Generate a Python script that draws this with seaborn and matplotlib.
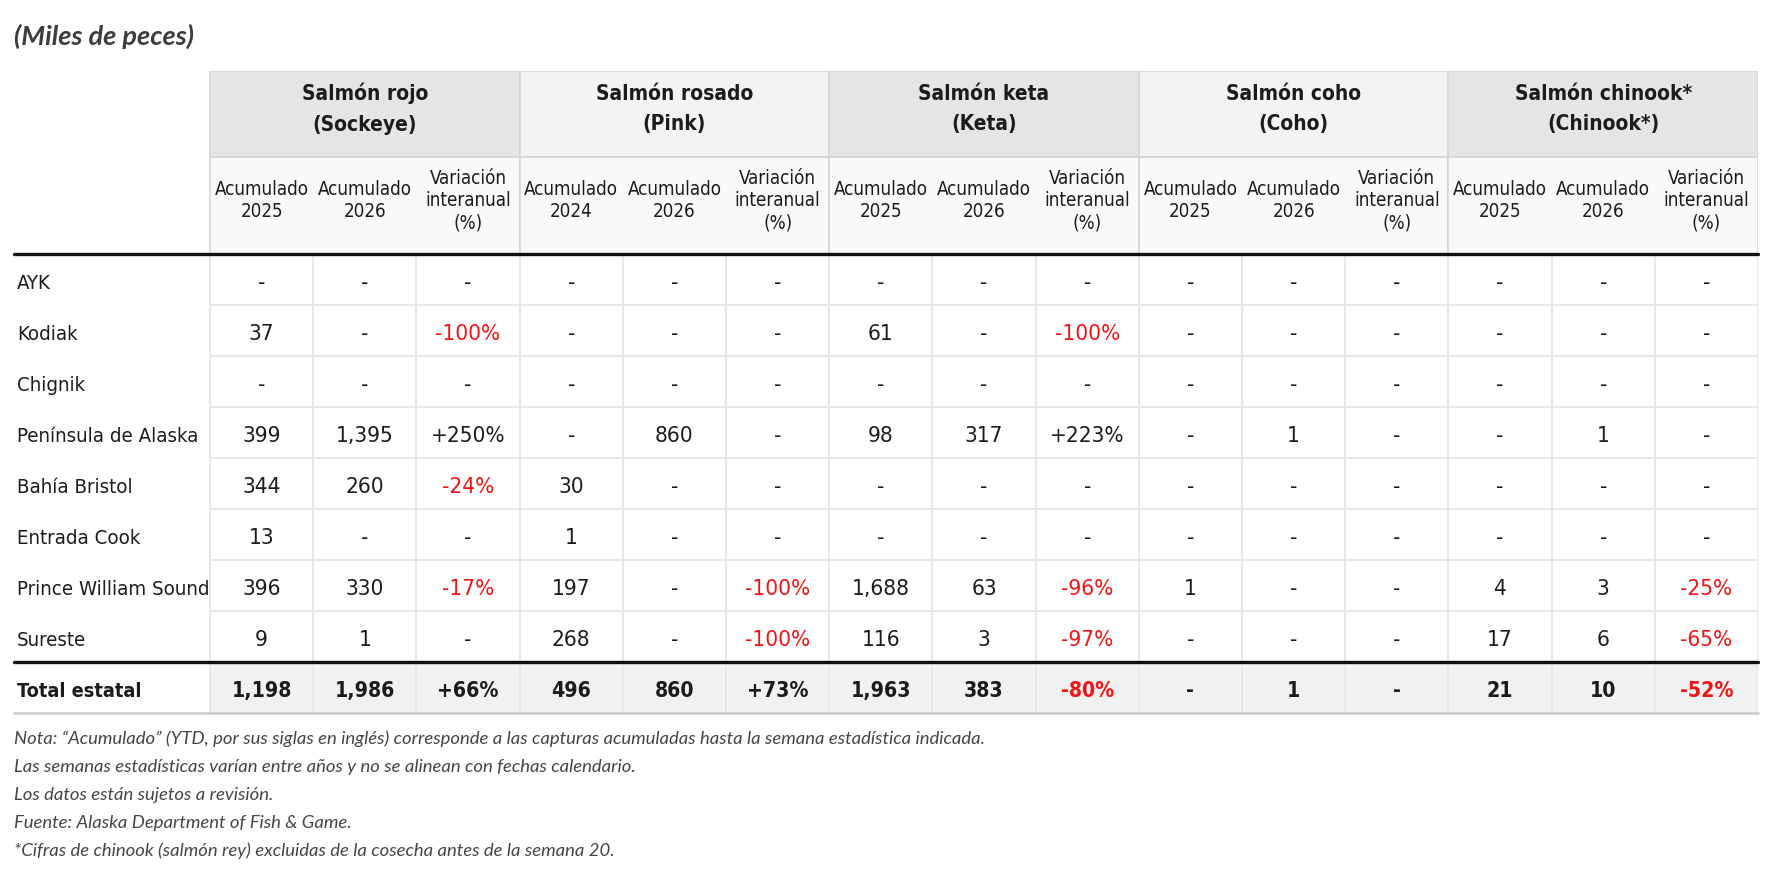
import numpy as np
import pandas as pd
import matplotlib
matplotlib.use("Agg")
import matplotlib.pyplot as plt
import seaborn as sns
from matplotlib import font_manager as fm
from matplotlib.colors import ListedColormap
from matplotlib.patches import Rectangle

# ---------------- data ----------------
title = "(Miles de peces)"
regions = ["AYK", "Kodiak", "Chignik", "Península de Alaska", "Bahía Bristol",
           "Entrada Cook", "Prince William Sound", "Sureste"]
total_label = "Total estatal"

species = ["Salmón rojo\n(Sockeye)", "Salmón rosado\n(Pink)", "Salmón keta\n(Keta)",
           "Salmón coho\n(Coho)", "Salmón chinook*\n(Chinook*)"]
prev_year = ["2025", "2024", "2025", "2025", "2025"]
curr_year = ["2026", "2026", "2026", "2026", "2026"]
var_header = "Variación\ninteranual\n(%)"

N = None
# rows: 8 regions + state total
sockeye_prev = [N, 37, N, 399, 344, 13, 396, 9, 1198]
sockeye_curr = [N, N, N, 1395, 260, N, 330, 1, 1986]
sockeye_var = [N, -100, N, 250, -24, N, -17, N, 66]

pink_prev = [N, N, N, N, 30, 1, 197, 268, 496]
pink_curr = [N, N, N, 860, N, N, N, N, 860]
pink_var = [N, N, N, N, N, N, -100, -100, 73]

keta_prev = [N, 61, N, 98, N, N, 1688, 116, 1963]
keta_curr = [N, N, N, 317, N, N, 63, 3, 383]
keta_var = [N, -100, N, 223, N, N, -96, -97, -80]

coho_prev = [N, N, N, N, N, N, 1, N, N]
coho_curr = [N, N, N, 1, N, N, N, N, 1]
coho_var = [N, N, N, N, N, N, N, N, N]

chinook_prev = [N, N, N, N, N, N, 4, 17, 21]
chinook_curr = [N, N, N, 1, N, N, 3, 6, 10]
chinook_var = [N, N, N, N, N, N, -25, -65, -52]

footnotes = [
    "Nota: \u201cAcumulado\u201d (YTD, por sus siglas en inglés) corresponde a las capturas acumuladas hasta la semana estadística indicada.",
    "Las semanas estadísticas varían entre años y no se alinean con fechas calendario.",
    "Los datos están sujetos a revisión.",
    "Fuente: Alaska Department of Fish & Game.",
    "*Cifras de chinook (salmón rey) excluidas de la cosecha antes de la semana 20.",
]

groups = [
    (sockeye_prev, sockeye_curr, sockeye_var),
    (pink_prev, pink_curr, pink_var),
    (keta_prev, keta_curr, keta_var),
    (coho_prev, coho_curr, coho_var),
    (chinook_prev, chinook_curr, chinook_var),
]

# ---------------- fonts ----------------
sns.set_theme(style="white")
names = {f.name for f in fm.fontManager.ttflist}
if "Liberation Sans Narrow" in names:
    TFONT, TSTRETCH = "Liberation Sans Narrow", "normal"
else:
    TFONT, TSTRETCH = "DejaVu Sans", "condensed"
NFONT = "Lato" if "Lato" in names else "DejaVu Sans"
plt.rcParams["font.family"] = [TFONT, "DejaVu Sans"]

# ---------------- layout ----------------
W, H = 1770, 889
LEFT_PX, DATA_PX, RIGHT_PX = 14, 210, 1758
TOP_PX, BODY_PX, BOT_PX = 71, 254, 713
COL_PX = (RIGHT_PX - DATA_PX) / 15
ROW_PX = (BOT_PX - BODY_PX) / 9
LABEL_W = (DATA_PX - LEFT_PX) / COL_PX
GROUP_H = 86 / ROW_PX
SUB_H = (BODY_PX - TOP_PX) / ROW_PX - GROUP_H
TEXT_DY = 0.07

RED = "#f01414"
INK = "#1c1c1c"
GRID = "#e8e8e8"
HDR_EDGE = "#d6d6d6"
GROUP_FILL = ["#e5e5e5", "#f3f3f3"]
SUB_FILL = "#f9f9f9"
TOTAL_FILL = "#f1f1f1"


def fmt_num(v):
    return "-" if v is None else f"{v:,}"


def fmt_pct(v):
    return "-" if v is None else f"{v:+d}%"


n_rows = len(regions) + 1
text_cols, neg_cols = [], []
for prev, curr, var in groups:
    text_cols += [[fmt_num(v) for v in prev], [fmt_num(v) for v in curr], [fmt_pct(v) for v in var]]
    neg_cols += [[False] * n_rows, [False] * n_rows, [(v is not None and v < 0) for v in var]]
annot = np.array(text_cols, dtype=object).T
negative = np.array(neg_cols).T
fill = np.zeros(annot.shape)
fill[-1, :] = 1

fig = plt.figure(figsize=(W / 100, H / 100), dpi=100)
fig.patch.set_facecolor("white")
ax = fig.add_axes([LEFT_PX / W, 1 - BOT_PX / H, (RIGHT_PX - LEFT_PX) / W, (BOT_PX - TOP_PX) / H])

sns.heatmap(pd.DataFrame(fill), ax=ax, cmap=ListedColormap(["white", TOTAL_FILL]),
            vmin=0, vmax=1, cbar=False, linewidths=1.1, linecolor=GRID,
            annot=annot, fmt="", xticklabels=False, yticklabels=False,
            annot_kws=dict(fontsize=16.2, family=[TFONT, "DejaVu Sans"], fontstretch=TSTRETCH))

for i, t in enumerate(ax.texts):
    r, c = divmod(i, annot.shape[1])
    t.set_color(RED if negative[r, c] else INK)
    x, y = t.get_position()
    t.set_position((x, y + TEXT_DY))
    if r == n_rows - 1:
        t.set_fontweight("bold")
        t.set_fontsize(15.2)

ax.set_xlim(-LABEL_W, 15)
ax.set_ylim(n_rows, -(GROUP_H + SUB_H))
ax.set_xticks([])
ax.set_yticks([])
for s in ax.spines.values():
    s.set_visible(False)

# header cells
for g, name in enumerate(species):
    x0 = 3 * g
    ax.add_patch(Rectangle((x0, -(GROUP_H + SUB_H)), 3, GROUP_H, facecolor=GROUP_FILL[g % 2],
                           edgecolor=HDR_EDGE, lw=1.2, zorder=2))
    ax.add_patch(Rectangle((x0, -SUB_H), 3, SUB_H, facecolor=SUB_FILL,
                           edgecolor=HDR_EDGE, lw=1.2, zorder=2))
    ax.text(x0 + 1.5, -(SUB_H + GROUP_H / 2) - 0.1, name, ha="center", va="center",
            fontsize=15, fontweight="bold", color=INK, linespacing=1.65,
            fontstretch=TSTRETCH, zorder=3)
    subs = [f"Acumulado\n{prev_year[g]}", f"Acumulado\n{curr_year[g]}", var_header]
    for k, s in enumerate(subs):
        ax.text(x0 + k + 0.5, -SUB_H / 2 - 0.09, s, ha="center", va="center",
                fontsize=13.5, color=INK, linespacing=1.2, fontstretch=TSTRETCH, zorder=3)

# row labels
for r, lab in enumerate(regions + [total_label]):
    is_total = r == n_rows - 1
    ax.text(-LABEL_W + 3 / COL_PX, r + 0.5 + TEXT_DY, lab, ha="left", va="center",
            fontsize=14.2 if is_total else 14.7, fontweight="bold" if is_total else "normal",
            color=INK, fontstretch=TSTRETCH)

# rules
ax.axhline(0, color="#111111", lw=2.4, zorder=4, clip_on=False)
ax.axhline(n_rows - 1, color="#111111", lw=2.4, zorder=4, clip_on=False)
ax.axhline(n_rows, color="#cfcfcf", lw=2.0, zorder=4, clip_on=False)

# title and notes
fig.text(LEFT_PX / W, 1 - 36 / H, title, ha="left", va="center", fontsize=19.5,
         fontweight="bold", fontstyle="italic", color="#3d3d3d", family=[NFONT, "DejaVu Sans"])
for i, note in enumerate(footnotes):
    fig.text(LEFT_PX / W, 1 - (739 + i * 28) / H, note, ha="left", va="center", fontsize=13.3,
             fontstyle="italic", color="#454545", family=[NFONT, "DejaVu Sans"])

fig.savefig("out.png", dpi=100, facecolor="white")
